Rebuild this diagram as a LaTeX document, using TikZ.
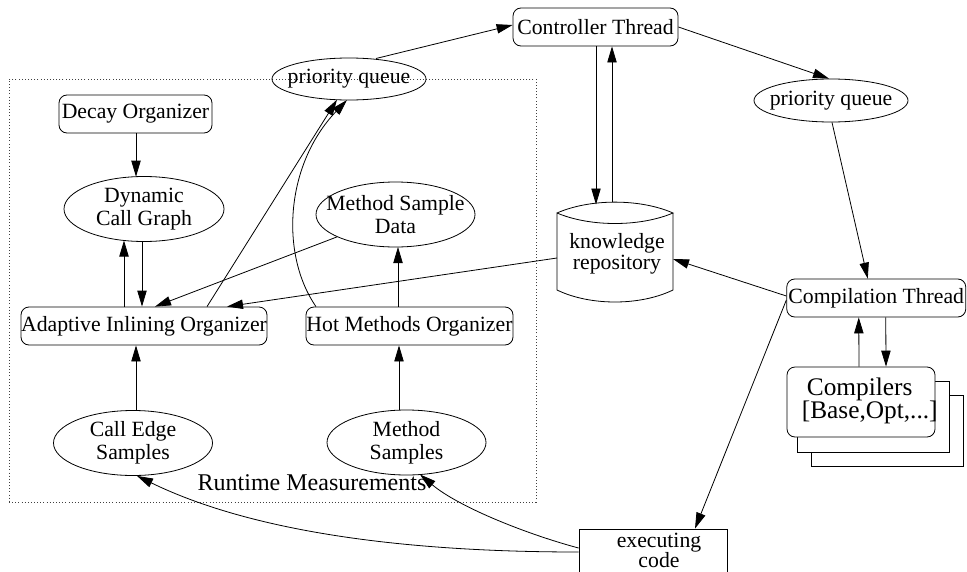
\documentclass[tikz,border=0pt]{standalone}
\usepackage{fontspec}
\setmainfont{Liberation Serif}
\usetikzlibrary{arrows.meta,shapes.geometric,calc}

\begin{document}
\begin{tikzpicture}[x=0.75pt, y=-0.75pt,
  every node/.style={inner sep=0pt, align=center, font=\fontsize{16.3}{17}\selectfont},
  rbox/.style={draw, line width=0.6pt, rounded corners=6pt, minimum height=28.5pt},
  oval/.style={draw, line width=0.6pt, ellipse, minimum width=119.25pt, minimum height=48.75pt},
  flat oval/.style={draw, line width=0.6pt, ellipse, minimum width=115.5pt, minimum height=31.5pt},
  plainbox/.style={draw, line width=0.6pt, fill=white},
  link/.style={line width=0.6pt, -{Triangle[length=12pt,width=7pt]}},
  frame/.style={draw, line width=0.6pt, black!75, dash pattern=on 0.75pt off 1.6pt},
]
\useasboundingbox (0,0) rectangle (967,571);

% dotted region holding the runtime measurement components
\node[frame, minimum width=395.25pt, minimum height=317.25pt] (region) at (272.5,290.5) {};
\node[anchor=base, font=\fontsize{18}{19}\selectfont] (rm) at (312,490) {Runtime Measurements};

% controller side
\node[rbox, minimum width=123.75pt] (ct) at (595.5,27) {Controller Thread};
\node[flat oval] (pqL) at (349,79) {};
\node (pqLt) at (pqL.center) {priority queue};
\node[flat oval, minimum height=32.25pt] (pqR) at (831,100.5) {};
\node (pqRt) at (pqR.center) {priority queue};

% organizers
\node[rbox, minimum width=114.75pt] (decay) at (135.5,114) {Decay Organizer};
\node[oval, minimum width=120pt] (dcg) at (144,209) {};
\node (dcgt) at (dcg.center) {Dynamic\\Call Graph};
\node[oval] (msd) at (395.5,214.5) {};
\node (msdt) at (msd.center) {Method Sample\\Data};
\node[rbox, minimum width=184.5pt] (aio) at (144,326) {Adaptive Inlining Organizer};
\node[rbox, minimum width=155.25pt] (hmo) at (409.5,326) {Hot Methods Organizer};
\node[oval] (ces) at (133,443) {};
\node (cest) at (ces.center) {Call Edge\\Samples};
\node[oval] (ms) at (406.5,442.5) {};
\node (mst) at (ms.center) {Method\\Samples};

% knowledge repository (cylinder)
\node[minimum width=87pt, minimum height=75pt, font=\fontsize{16.3}{11.5}\selectfont] (kr) at (617,254) {knowledge\\repository};
\draw[line width=0.6pt]
  ($(kr.center)+(-60,-41)$) .. controls +(33,-14.5) and +(-33,-14.5) .. ($(kr.center)+(56,-41)$)
  .. controls +(-33,14) and +(33,14) .. ($(kr.center)+(-60,-41)$)
  -- ($(kr.center)+(-60,36)$)
  .. controls +(33,16) and +(-33,16) .. ($(kr.center)+(56,36)$)
  -- ($(kr.center)+(56,-41)$);

% compilation side
\node[rbox, minimum width=134.25pt] (cth) at (876.25,298) {Compilation Thread};
\coordinate (stack) at (861,402);
\draw[plainbox] ($(stack)+(-50,-7)$) rectangle ($(stack)+(102,64)$);
\draw[plainbox] ($(stack)+(-64,-21)$) rectangle ($(stack)+(88,50)$);
\node[rbox, fill=white, minimum width=111pt, minimum height=52.5pt] (comp) at (stack) {};
\node[anchor=west, align=left, font=\fontsize{19}{17.5}\selectfont] (compt) at ($(comp.west)+(15,-1)$) {\hspace*{3.75pt}Compilers\\\relax[Base,Opt,...]};
\node[plainbox, minimum width=111pt, minimum height=34.5pt] (exec) at (653,552) {};
\node[font=\fontsize{16.3}{15}\selectfont] (exect) at ($(exec.center)+(6,-2)$) {executing\\code};

% connectors
\draw[link] ($(pqL.center)+(27,-20.5)$) -- ($(ct.west)+(0,-2)$);
\draw[link] (ct.east) -- ($(pqR.north)+(-2,0)$);
\draw[link] ($(pqR.south)+(1,0)$) -- ($(cth.north)+(-8.5,0)$);
\draw[link] ($(cth.west)+(0,-2)$) -- ($(kr.center)+(56,5)$);
\draw[link] ($(kr.center)+(-60,4)$) -- ($(aio.north)+(83,0)$);
\draw[link] (msd) -- ($(aio.north)+(11,0)$);
\draw[link] ($(dcg.south)+(-2,0)$) -- ($(aio.north)+(-2,0)$);
\draw[link] ($(aio.north)+(-20,0)$) -- ($(dcg.center)+(-20,31.5)$);
\draw[link] ($(decay.south)+(0.5,0)$) -- ($(dcg.center)+(-8,-32.3)$);
\draw[link] ($(aio.north)+(63,0)$) -- ($(pqL.center)+(-12,20.7)$);
\draw[link] ($(hmo.north)+(-93.5,0)$) .. controls +(-36,-52) and +(-62,65) .. ($(pqL.center)+(-2,21)$);
\draw[link] ($(hmo.north)+(-11.5,0)$) -- ($(msd.center)+(2.5,32.5)$);
\draw[link] ($(ces.north)+(3,0)$) -- ($(aio.south)+(-8,0)$);
\draw[link] ($(ms.north)+(-7.5,0)$) -- ($(hmo.south)+(-10.5,0)$);
\draw[link] ($(ct.south)+(0.5,0)$) -- ($(kr.center)+(-21,-49.5)$);
\draw[link] ($(kr.center)+(-5,-52)$) -- ($(ct.south)+(16.5,0)$);
\draw[link] ($(cth.south)+(9.5,0)$) -- ($(comp.north)+(25,0)$);
\draw[link] ($(comp.north)+(-2,0)$) -- ($(cth.south)+(-17.5,0)$);
\draw[link] ($(cth.west)+(0,2)$) -- ($(exec.north)+(42,0)$);
\draw[link] (exec.west) .. controls +(-179,0) and +(113,55) .. ($(ces.south)+(4,0)$);
\draw[link] ($(exec.west)+(0,-4)$) .. controls +(-49,-13) and +(40,33.5) .. ($(ms.center)+(13.5,32)$);
\end{tikzpicture}
\end{document}
